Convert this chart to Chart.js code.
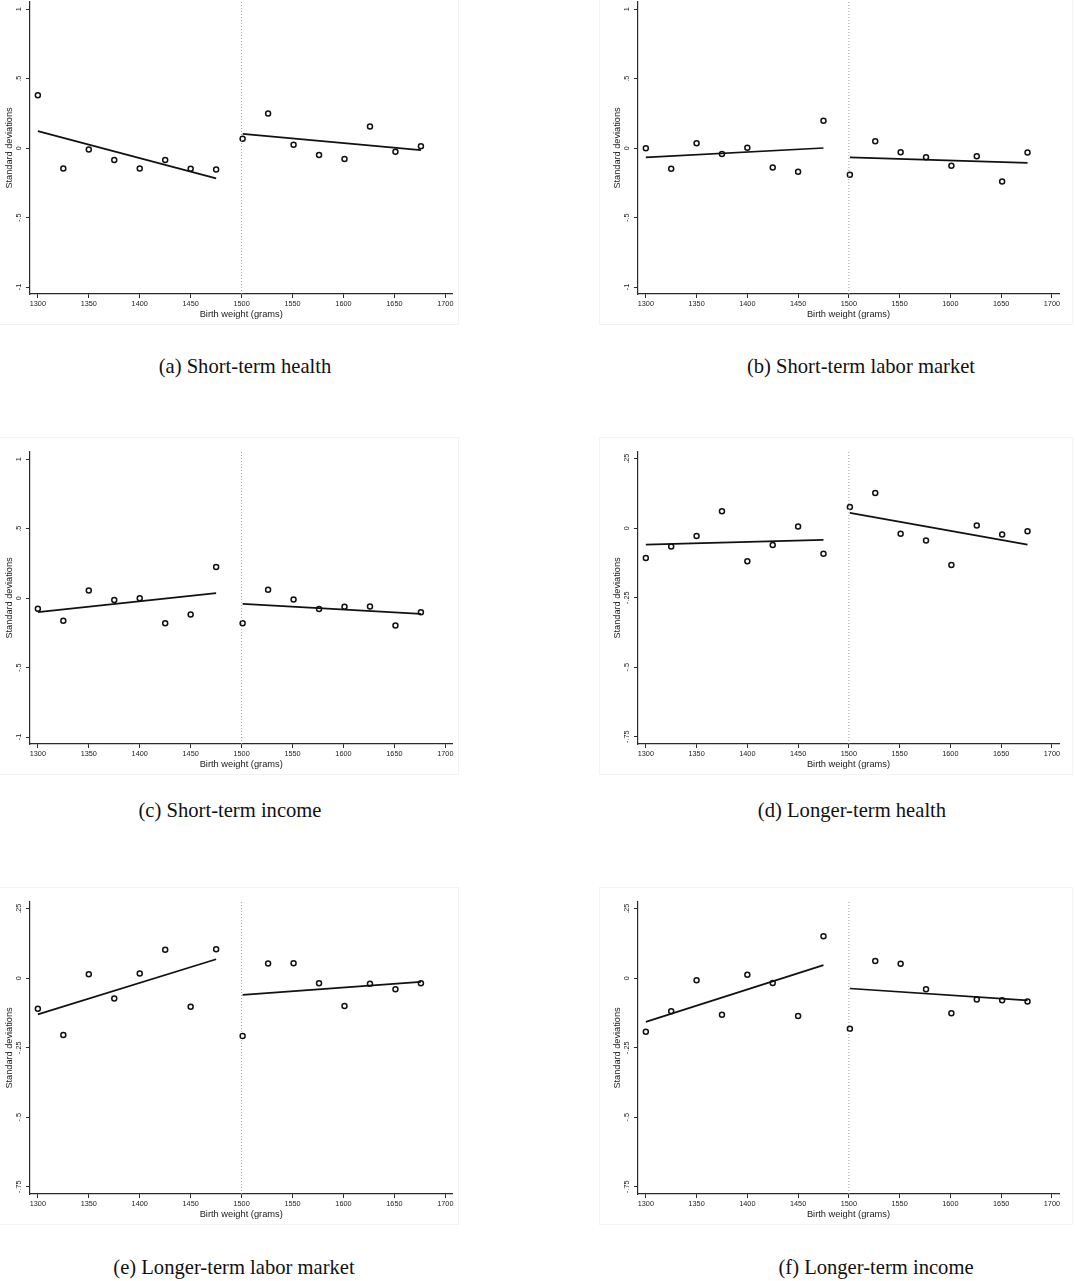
<!DOCTYPE html>
<html>
<head>
<meta charset="utf-8">
<script src="https://cdn.jsdelivr.net/npm/chart.js@4.4.1/dist/chart.umd.min.js"></script>
<style>
  body { margin: 0; width: 1075px; height: 1281px; background: #fff; position: relative; overflow: hidden; }
  canvas { position: absolute; outline: 1px solid #f3f3f3; }
  .cap { position: absolute; font-family: "Liberation Serif", "Times New Roman", serif; font-size: 20.6px; color: #111;
         white-space: nowrap; transform: translate(-50%, -50%); }
</style>
</head>
<body>
<script>
// bins (grams)
const binsLeft  = [1300, 1325, 1350, 1375, 1400, 1425, 1450, 1475];
const binsRight = [1501, 1526, 1551, 1576, 1601, 1626, 1651, 1676];
const cutoff = 1500;

const xTicks = [1300, 1350, 1400, 1450, 1500, 1550, 1600, 1650, 1700];
const xTickLabels = ['1300', '1350', '1400', '1450', '1500', '1550', '1600', '1650', '1700'];

const yTicksShort = [-1, -0.5, 0, 0.5, 1];
const yLabelsShort = ['-1', '-.5', '0', '.5', '1'];
const yTicksLong = [-0.75, -0.5, -0.25, 0, 0.25];
const yLabelsLong = ['-.75', '-.5', '-.25', '0', '.25'];

// (a) short-term health
const healthShortL = [0.381, -0.146, -0.010, -0.086, -0.146, -0.086, -0.149, -0.153];
const healthShortR = [0.067, 0.249, 0.024, -0.050, -0.079, 0.156, -0.026, 0.014];
const healthShortFitL = [0.122, -0.218];
const healthShortFitR = [0.103, -0.014];

// (b) short-term labor market
const laborShortL = [0.000, -0.148, 0.036, -0.043, 0.002, -0.139, -0.170, 0.197];
const laborShortR = [-0.192, 0.050, -0.029, -0.065, -0.127, -0.058, -0.240, -0.031];
const laborShortFitL = [-0.067, 0.001];
const laborShortFitR = [-0.067, -0.106];

// (c) short-term income
const incomeShortL = [-0.077, -0.163, 0.055, -0.014, 0.000, -0.180, -0.118, 0.225];
const incomeShortR = [-0.180, 0.060, -0.010, -0.079, -0.062, -0.060, -0.197, -0.101];
const incomeShortFitL = [-0.101, 0.036];
const incomeShortFitR = [-0.041, -0.113];

// (d) longer-term health
const healthLongL = [-0.107, -0.066, -0.028, 0.061, -0.119, -0.060, 0.006, -0.092];
const healthLongR = [0.076, 0.127, -0.020, -0.044, -0.132, 0.010, -0.023, -0.011];
const healthLongFitL = [-0.059, -0.042];
const healthLongFitR = [0.055, -0.059];

// (e) longer-term labor market
const laborLongL = [-0.110, -0.204, 0.014, -0.073, 0.017, 0.102, -0.103, 0.104];
const laborLongR = [-0.208, 0.053, 0.054, -0.018, -0.100, -0.020, -0.040, -0.018];
const laborLongFitL = [-0.130, 0.068];
const laborLongFitR = [-0.060, -0.013];

// (f) longer-term income
const incomeLongL = [-0.193, -0.119, -0.007, -0.131, 0.012, -0.017, -0.136, 0.151];
const incomeLongR = [-0.182, 0.062, 0.052, -0.040, -0.126, -0.077, -0.079, -0.084];
const incomeLongFitL = [-0.157, 0.047];
const incomeLongFitR = [-0.037, -0.080];

const sans = '"Liberation Sans", Arial, Helvetica, sans-serif';

const panels = [
  { cap: '(a) Short-term health', capX: 245, capY: 366, x: -8, y: -12, w: 466, padR: 5,
    L: healthShortL, R: healthShortR, fL: healthShortFitL, fR: healthShortFitR,
    yt: yTicksShort, yl: yLabelsShort, min: -1.05, max: 1.052, tp: 3.0 },
  { cap: '(b) Short-term labor market', capX: 861, capY: 366, x: 600, y: -12, w: 472, padR: 13,
    L: laborShortL, R: laborShortR, fL: laborShortFitL, fR: laborShortFitR,
    yt: yTicksShort, yl: yLabelsShort, min: -1.05, max: 1.052, tp: 3.0 },
  { cap: '(c) Short-term income', capX: 230, capY: 810, x: -8, y: 438, w: 466, padR: 5,
    L: incomeShortL, R: incomeShortR, fL: incomeShortFitL, fR: incomeShortFitR,
    yt: yTicksShort, yl: yLabelsShort, min: -1.05, max: 1.052, tp: 3.0 },
  { cap: '(d) Longer-term health', capX: 852, capY: 810, x: 600, y: 438, w: 472, padR: 13,
    L: healthLongL, R: healthLongR, fL: healthLongFitL, fR: healthLongFitR,
    yt: yTicksLong, yl: yLabelsLong, min: -0.776, max: 0.274, tp: 1.0 },
  { cap: '(e) Longer-term labor market', capX: 234, capY: 1267, x: -8, y: 888, w: 466, padR: 5,
    L: laborLongL, R: laborLongR, fL: laborLongFitL, fR: laborLongFitR,
    yt: yTicksLong, yl: yLabelsLong, min: -0.776, max: 0.274, tp: 1.0 },
  { cap: '(f) Longer-term income', capX: 876, capY: 1267, x: 600, y: 888, w: 472, padR: 13,
    L: incomeLongL, R: incomeLongR, fL: incomeLongFitL, fR: incomeLongFitR,
    yt: yTicksLong, yl: yLabelsLong, min: -0.776, max: 0.274, tp: 1.0 }
];

function pts(xs, ys) { return xs.map((x, i) => ({ x: x, y: ys[i] })); }

function makePanel(p) {
  const cv = document.createElement('canvas');
  cv.width = p.w; cv.height = 336;
  cv.style.left = p.x + 'px'; cv.style.top = p.y + 'px';
  document.body.appendChild(cv);

  const marker = { showLine: false, pointRadius: 2.5, pointBorderWidth: 1.5,
    pointBorderColor: '#111', pointBackgroundColor: 'rgba(255,255,255,0)' };
  const fit = { type: 'line', borderColor: '#111', borderWidth: 1.7, pointRadius: 0, fill: false };

  new Chart(cv, {
    type: 'scatter',
    data: {
      datasets: [
        { type: 'line', data: [{ x: cutoff, y: p.min }, { x: cutoff, y: p.max }],
          borderColor: '#a0a0a0', borderWidth: 1, borderDash: [1, 2], pointRadius: 0 },
        Object.assign({ data: pts(binsLeft, p.L) }, marker),
        Object.assign({ data: pts(binsRight, p.R) }, marker),
        Object.assign({ data: pts([binsLeft[0], binsLeft[binsLeft.length - 1]], p.fL) }, fit),
        Object.assign({ data: pts([binsRight[0], binsRight[binsRight.length - 1]], p.fR) }, fit)
      ]
    },
    options: {
      responsive: false, animation: false, events: [],
      layout: { padding: { top: 14, right: p.padR, left: 0, bottom: 0 } },
      plugins: { legend: { display: false }, tooltip: { enabled: false } },
      scales: {
        x: {
          type: 'linear', min: 1292.3, max: 1707,
          afterBuildTicks: s => { s.ticks = xTicks.map(v => ({ value: v })); },
          afterFit: s => { s.height = 30; },
          grid: { drawOnChartArea: false, drawTicks: true, tickLength: 4, tickColor: '#2a2a2a', tickWidth: 1 },
          border: { color: '#2a2a2a', width: 1.2 },
          ticks: { font: { family: sans, size: 7.3 }, color: '#222', padding: 2, maxRotation: 0, autoSkip: false,
                   callback: (v, i) => xTickLabels[i] },
          title: { display: true, text: 'Birth weight (grams)', color: '#1a1a1a',
                   font: { family: sans, size: 9.3 }, padding: { top: 0, bottom: 4.4 } }
        },
        y: {
          type: 'linear', min: p.min, max: p.max,
          afterBuildTicks: s => { s.ticks = p.yt.map(v => ({ value: v })); },
          afterFit: s => { s.width = 38; },
          grid: { drawOnChartArea: false, drawTicks: true, tickLength: 4, tickColor: '#2a2a2a', tickWidth: 1 },
          border: { color: '#2a2a2a', width: 1.2 },
          ticks: { font: { family: sans, size: 7.3 }, color: '#222', padding: p.tp, minRotation: 90, maxRotation: 90,
                   crossAlign: 'center', autoSkip: false, callback: (v, i) => p.yl[i] },
          title: { display: true, text: 'Standard deviations', color: '#1a1a1a',
                   font: { family: sans, size: 9.2 }, padding: { top: 11.5, bottom: 0 } }
        }
      }
    }
  });

  const c = document.createElement('div');
  c.className = 'cap';
  c.textContent = p.cap;
  c.style.left = p.capX + 'px';
  c.style.top = p.capY + 'px';
  document.body.appendChild(c);
}

panels.forEach(makePanel);
</script>
</body>
</html>
